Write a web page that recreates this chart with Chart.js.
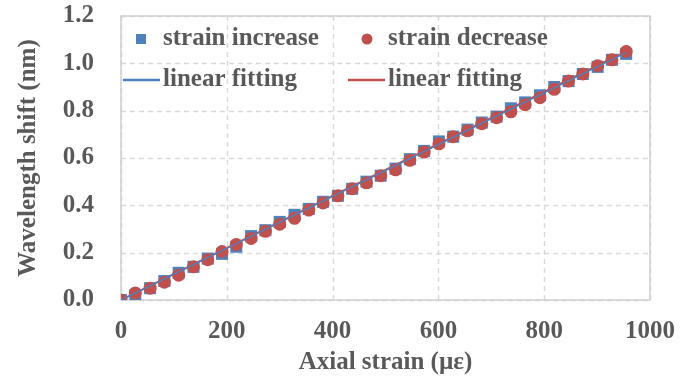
<!DOCTYPE html>
<html>
<head>
<meta charset="utf-8">
<script src="https://cdn.jsdelivr.net/npm/chart.js@4/dist/chart.umd.min.js"></script>
<style>
  html, body { margin: 0; padding: 0; background: #fff; }
  #wrap { width: 691px; height: 378px; }
</style>
</head>
<body>
<div id="wrap"><canvas id="strainChart" width="691" height="378"></canvas></div>
<script>
// measured points (axial strain in µε)
const strainSteps = [0, 27, 55, 82, 109, 137, 164, 191, 218, 246, 273, 300, 328, 355, 382, 410, 437, 464, 491, 519, 546, 573, 601, 628, 655, 682, 710, 737, 764, 792, 819, 846, 873, 901, 928, 955];
const shiftIncrease = [0.00, 0.02, 0.05, 0.08, 0.115, 0.14, 0.175, 0.195, 0.225, 0.27, 0.295, 0.33, 0.36, 0.385, 0.415, 0.44, 0.47, 0.50, 0.525, 0.555, 0.595, 0.63, 0.67, 0.69, 0.72, 0.75, 0.775, 0.81, 0.835, 0.865, 0.90, 0.925, 0.955, 0.985, 1.015, 1.04];
const shiftDecrease = [0.00, 0.03, 0.05, 0.075, 0.105, 0.14, 0.17, 0.205, 0.235, 0.26, 0.29, 0.32, 0.345, 0.38, 0.41, 0.44, 0.47, 0.495, 0.525, 0.55, 0.59, 0.625, 0.66, 0.69, 0.715, 0.745, 0.77, 0.795, 0.825, 0.855, 0.89, 0.925, 0.955, 0.99, 1.015, 1.05];

// linear fitting end points
const fitStrain = [0, 955];
const fitIncrease = [0.0, 1.045];
const fitDecrease = [0.0, 1.05];

const xTicks = [0, 200, 400, 600, 800, 1000];
const yTicks = [0.0, 0.2, 0.4, 0.6, 0.8, 1.0, 1.2];

const BLUE = '#4F81BD';
const RED = '#C0504D';
const TEXT = '#595959';
const FONT = '"Liberation Serif", "Times New Roman", serif';

const toPoints = (xs, ys) => xs.map((x, i) => ({ x, y: ys[i] }));

// dashed grid + solid frame, drawn from the scales' own ticks
const frame = {
  id: 'frame',
  beforeDatasetsDraw(chart) {
    const { ctx, chartArea: a, scales } = chart;
    ctx.save();
    ctx.strokeStyle = '#d9d9d9';
    ctx.lineWidth = 1.5;
    ctx.setLineDash([5, 4]);
    scales.x.ticks.forEach(t => {
      const px = Math.round(scales.x.getPixelForValue(t.value)) + 0.5;
      ctx.beginPath(); ctx.moveTo(px, a.top); ctx.lineTo(px, a.bottom); ctx.stroke();
    });
    scales.y.ticks.forEach(t => {
      const py = Math.round(scales.y.getPixelForValue(t.value)) + 0.5;
      ctx.beginPath(); ctx.moveTo(a.left, py); ctx.lineTo(a.right, py); ctx.stroke();
    });
    ctx.setLineDash([]);
    ctx.strokeStyle = '#d0d0d0';
    ctx.strokeRect(a.left, a.top, a.right - a.left, a.bottom - a.top);
    ctx.restore();
  }
};

const legendBox = {
  id: 'legendBox',
  afterDraw(chart) {
    const { ctx } = chart;
    ctx.save();
    ctx.font = 'bold 25px ' + FONT;
    ctx.textBaseline = 'middle';
    ctx.textAlign = 'left';
    // row 1: markers
    ctx.fillStyle = BLUE;
    ctx.fillRect(136, 34, 10, 10);
    ctx.fillStyle = RED;
    ctx.beginPath();
    ctx.arc(367, 39, 5.5, 0, Math.PI * 2);
    ctx.fill();
    ctx.fillStyle = TEXT;
    ctx.fillText('strain increase', 163, 39);
    ctx.fillText('strain decrease', 388, 39);
    // row 2: lines
    ctx.lineWidth = 2.5;
    ctx.strokeStyle = BLUE;
    ctx.beginPath(); ctx.moveTo(123, 80); ctx.lineTo(160, 80); ctx.stroke();
    ctx.strokeStyle = RED;
    ctx.beginPath(); ctx.moveTo(348, 80); ctx.lineTo(385, 80); ctx.stroke();
    ctx.fillText('linear fitting', 163, 80);
    ctx.fillText('linear fitting', 388, 80);
    ctx.restore();
  }
};

new Chart(document.getElementById('strainChart').getContext('2d'), {
  type: 'scatter',
  data: {
    datasets: [
      {
        label: 'strain increase',
        data: toPoints(strainSteps, shiftIncrease),
        pointStyle: 'rect',
        pointRadius: 8.5,
        backgroundColor: BLUE,
        borderColor: BLUE,
        borderWidth: 0,
        order: 4,
      },
      {
        label: 'strain decrease',
        data: toPoints(strainSteps, shiftDecrease),
        pointStyle: 'circle',
        pointRadius: 6.5,
        backgroundColor: RED,
        borderColor: RED,
        borderWidth: 0,
        order: 3,
      },
      {
        label: 'linear fitting',
        data: toPoints(fitStrain, fitDecrease),
        showLine: true,
        pointRadius: 0,
        borderColor: RED,
        borderWidth: 2,
        order: 2,
      },
      {
        label: 'linear fitting',
        data: toPoints(fitStrain, fitIncrease),
        showLine: true,
        pointRadius: 0,
        borderColor: BLUE,
        borderWidth: 1.5,
        order: 1,
      },
    ]
  },
  options: {
    responsive: false,
    devicePixelRatio: 1,
    animation: false,
    layout: { padding: { left: 0, right: 41, top: 16, bottom: 0 } },
    plugins: {
      legend: { display: false },
      tooltip: { enabled: false },
    },
    scales: {
      x: {
        type: 'linear',
        min: 0,
        max: 1000,
        afterBuildTicks: (s) => { s.ticks = xTicks.map(v => ({ value: v })); },
        afterFit: (s) => { s.height = 78; s.paddingLeft = 0; s.paddingRight = 0; },
        ticks: {
          color: TEXT,
          font: { family: FONT, size: 25, weight: 'bold' },
          padding: 17,
          maxRotation: 0,
          callback: (v) => String(v),
        },
        grid: { display: false, drawTicks: false },
        border: { display: false },
        title: {
          display: true,
          text: 'Axial strain (µε)',
          color: TEXT,
          font: { family: FONT, size: 25, weight: 'bold' },
          padding: { top: 0, bottom: 0 },
        },
      },
      y: {
        type: 'linear',
        min: 0,
        max: 1.2,
        afterBuildTicks: (s) => { s.ticks = yTicks.map(v => ({ value: v })); },
        afterFit: (s) => { s.width = 121; s.paddingTop = 0; s.paddingBottom = 0; },
        ticks: {
          color: TEXT,
          font: { family: FONT, size: 25, weight: 'bold' },
          padding: 27,
          callback: (v) => Number(v).toFixed(1),
        },
        grid: { display: false, drawTicks: false },
        border: { display: false },
        title: {
          display: true,
          text: 'Wavelength shift (nm)',
          color: TEXT,
          font: { family: FONT, size: 25, weight: 'bold' },
          padding: { top: 14, bottom: 0 },
        },
      },
    },
  },
  plugins: [frame, legendBox],
});
</script>
</body>
</html>
